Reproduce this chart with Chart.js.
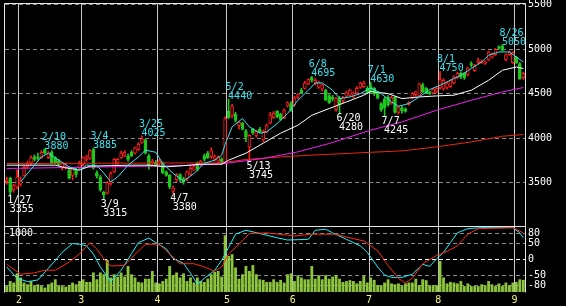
<!DOCTYPE html>
<html>
<head>
<meta charset="utf-8">
<script src="https://cdn.jsdelivr.net/npm/chart.js"></script>
<style>
  html, body { margin: 0; padding: 0; background: #000; }
  #wrap { position: relative; width: 566px; height: 306px; background: #000; overflow: hidden; }
  #main { position: absolute; left: 0; top: 0; }
  #sub  { position: absolute; left: 0; top: 226px; }
</style>
</head>
<body>
<div id="wrap">
  <canvas id="main" width="566" height="228"></canvas>
  <canvas id="sub" width="566" height="80"></canvas>
</div>
<script>
// Trading days shown, by month
const monthDays = [
  [1, [26, 27, 28, 31]],
  [2, [1, 2, 3, 4, 7, 8, 9, 10, 14, 15, 16, 17, 18, 21, 22, 24, 25, 28]],
  [3, [1, 2, 3, 4, 7, 8, 9, 10, 11, 14, 15, 16, 17, 18, 22, 23, 24, 25, 28, 29, 30, 31]],
  [4, [1, 4, 5, 6, 7, 8, 11, 12, 13, 14, 15, 18, 19, 20, 21, 22, 25, 26, 27, 28]],
  [5, [2, 6, 9, 10, 11, 12, 13, 16, 17, 18, 19, 20, 23, 24, 25, 26, 27, 30, 31]],
  [6, [1, 2, 3, 6, 7, 8, 9, 10, 13, 14, 15, 16, 17, 20, 21, 22, 23, 24, 27, 28, 29, 30]],
  [7, [1, 4, 5, 6, 7, 8, 11, 12, 13, 14, 15, 19, 20, 21, 22, 25, 26, 27, 28, 29]],
  [8, [1, 2, 3, 4, 5, 8, 9, 10, 12, 15, 16, 17, 18, 19, 22, 23, 24, 25, 26, 29, 30, 31]],
  [9, [1, 2, 5]]
];

// Candles [open, high, low, close]
const candlesJan = [
  [3510, 3560, 3480, 3530], [3550, 3560, 3355, 3390], [3420, 3480, 3390, 3470], [3450, 3640, 3430, 3560]
];
const candlesFeb = [
  [3480, 3560, 3460, 3530], [3580, 3690, 3570, 3670], [3680, 3740, 3660, 3720], [3720, 3800, 3700, 3780],
  [3790, 3810, 3740, 3760], [3790, 3830, 3750, 3770], [3780, 3860, 3770, 3840], [3870, 3880, 3820, 3830],
  [3780, 3850, 3770, 3830], [3840, 3860, 3710, 3720], [3780, 3790, 3710, 3720], [3740, 3760, 3690, 3700],
  [3660, 3730, 3640, 3720], [3680, 3720, 3650, 3700], [3640, 3660, 3540, 3550], [3580, 3670, 3530, 3660],
  [3640, 3660, 3560, 3590], [3660, 3740, 3650, 3720]
];
const candlesMar = [
  [3700, 3790, 3690, 3780], [3760, 3810, 3740, 3790], [3770, 3870, 3760, 3860], [3870, 3885, 3650, 3660],
  [3610, 3630, 3550, 3570], [3560, 3580, 3400, 3420], [3390, 3400, 3315, 3360], [3380, 3510, 3370, 3500],
  [3490, 3620, 3470, 3600], [3620, 3770, 3610, 3760], [3720, 3770, 3700, 3760], [3780, 3850, 3770, 3830],
  [3800, 3860, 3790, 3840], [3800, 3820, 3740, 3760], [3840, 3860, 3790, 3800], [3830, 3900, 3820, 3890],
  [3870, 3950, 3860, 3930], [3950, 4025, 3940, 3990], [3980, 3990, 3820, 3830], [3800, 3820, 3650, 3690],
  [3720, 3760, 3700, 3740], [3730, 3750, 3680, 3690]
];
const candlesApr = [
  [3710, 3760, 3690, 3740], [3720, 3730, 3600, 3610], [3620, 3630, 3570, 3580], [3580, 3590, 3430, 3450],
  [3400, 3460, 3380, 3440], [3530, 3600, 3510, 3590], [3590, 3600, 3510, 3530], [3540, 3560, 3480, 3510],
  [3540, 3630, 3520, 3620], [3590, 3680, 3580, 3660], [3640, 3700, 3630, 3680], [3720, 3730, 3630, 3650],
  [3700, 3750, 3690, 3740], [3800, 3820, 3740, 3760], [3830, 3850, 3770, 3780], [3790, 3890, 3770, 3860],
  [3760, 3810, 3740, 3790], [3740, 3800, 3720, 3790], [3760, 3780, 3700, 3730], [3720, 4240, 3710, 4220]
];
const candlesMay = [
  [4300, 4440, 4220, 4230], [4250, 4380, 4230, 4360], [4270, 4290, 4180, 4200], [4140, 4190, 4100, 4180],
  [4170, 4180, 4090, 4100], [4080, 4100, 3960, 4010], [3900, 4040, 3745, 4030], [4100, 4110, 4040, 4060],
  [4030, 4090, 4010, 4080], [4100, 4120, 4060, 4070], [3980, 4090, 3960, 4080], [4070, 4160, 4060, 4140],
  [4170, 4290, 4160, 4260], [4230, 4300, 4220, 4280], [4300, 4310, 4230, 4240], [4270, 4280, 4200, 4210],
  [4230, 4330, 4220, 4310], [4360, 4410, 4350, 4400], [4390, 4410, 4300, 4320]
];
const candlesJun = [
  [4370, 4470, 4360, 4450], [4460, 4500, 4440, 4490], [4540, 4560, 4500, 4510], [4560, 4640, 4550, 4620],
  [4610, 4670, 4600, 4660], [4680, 4695, 4630, 4650], [4620, 4670, 4600, 4650], [4570, 4640, 4560, 4630],
  [4550, 4610, 4530, 4600], [4540, 4550, 4420, 4430], [4480, 4490, 4390, 4400], [4460, 4480, 4420, 4440],
  [4320, 4460, 4300, 4450], [4450, 4470, 4280, 4380], [4420, 4470, 4400, 4460], [4470, 4530, 4460, 4510],
  [4480, 4550, 4470, 4540], [4460, 4520, 4450, 4500], [4510, 4580, 4500, 4560], [4570, 4630, 4560, 4620],
  [4580, 4640, 4570, 4620], [4560, 4580, 4500, 4510]
];
const candlesJul = [
  [4590, 4630, 4510, 4530], [4560, 4570, 4480, 4500], [4510, 4530, 4440, 4450], [4390, 4400, 4300, 4320],
  [4440, 4460, 4245, 4340], [4460, 4480, 4360, 4370], [4390, 4470, 4380, 4460], [4460, 4470, 4280, 4290],
  [4290, 4360, 4270, 4350], [4340, 4360, 4280, 4310], [4330, 4340, 4290, 4300], [4380, 4410, 4370, 4400],
  [4450, 4510, 4440, 4500], [4490, 4530, 4470, 4520], [4480, 4620, 4470, 4610], [4600, 4620, 4510, 4520],
  [4560, 4570, 4500, 4510], [4520, 4530, 4490, 4500], [4510, 4560, 4500, 4550], [4520, 4570, 4510, 4560]
];
const candlesAug = [
  [4570, 4750, 4550, 4660], [4560, 4670, 4540, 4650], [4570, 4630, 4550, 4620], [4580, 4660, 4570, 4650],
  [4620, 4700, 4610, 4690], [4680, 4745, 4670, 4730], [4730, 4745, 4670, 4690], [4730, 4740, 4660, 4680],
  [4710, 4800, 4700, 4790], [4840, 4860, 4800, 4820], [4760, 4830, 4750, 4820], [4850, 4900, 4830, 4870],
  [4850, 4880, 4840, 4870], [4840, 4870, 4830, 4860], [4880, 4980, 4870, 4970], [4910, 4960, 4900, 4950],
  [4940, 5010, 4930, 5000], [5030, 5040, 5000, 5010], [5040, 5050, 4980, 4990], [4880, 4950, 4870, 4940],
  [4940, 4980, 4930, 4970], [4850, 4970, 4840, 4960]
];
const candlesSep = [
  [4910, 4920, 4840, 4850], [4840, 4850, 4660, 4670], [4680, 4740, 4660, 4730]
];

// Volume (shares, scale top tick 1000)
const volume = [
  100, 185, 160, 315, 245, 160, 130, 185, 100, 130,
  100, 75, 130, 160, 215, 115, 100, 90, 115, 160,
  130, 185, 215, 170, 170, 330, 215, 330, 300, 545,
  245, 300, 260, 330, 260, 440, 300, 245, 170, 160,
  225, 225, 355, 160, 145, 185, 225, 440, 285, 330,
  245, 315, 185, 245, 160, 245, 185, 170, 225, 300,
  340, 355, 260, 960, 610, 640, 415, 225, 300, 440,
  355, 455, 300, 215, 205, 170, 170, 215, 170, 205,
  160, 300, 315, 185, 285, 245, 215, 215, 440, 225,
  285, 215, 285, 225, 260, 285, 225, 170, 185, 200,
  185, 145, 185, 270, 160, 245, 205, 115, 115, 160,
  215, 145, 130, 145, 115, 145, 160, 160, 225, 115,
  215, 200, 115, 115, 115, 525, 245, 145, 170, 160,
  145, 185, 100, 145, 100, 100, 100, 130, 115, 185,
  130, 100, 145, 100, 160, 115, 160, 170, 215, 205
];

// Moving averages: [day index, value]
const maShortPts = [[4, 3507], [10, 3788], [12, 3830], [15, 3751], [18, 3676], [21, 3639], [23, 3695], [26, 3690],
  [28, 3605], [30, 3507], [32, 3563], [35, 3695], [38, 3788], [40, 3864], [43, 3840], [45, 3714], [48, 3602],
  [51, 3515], [54, 3600], [57, 3717], [60, 3751], [62, 3808], [63, 3930], [65, 4126], [68, 4220], [70, 4126],
  [73, 4055], [75, 4070], [78, 4164], [81, 4277], [84, 4426], [87, 4539], [89, 4621], [91, 4621], [94, 4539],
  [96, 4445], [99, 4463], [102, 4501], [105, 4565], [108, 4501], [111, 4407], [113, 4359], [116, 4389],
  [119, 4463], [122, 4547], [125, 4595], [128, 4651], [131, 4708], [134, 4783], [137, 4857], [139, 4933],
  [142, 4970], [145, 4970], [147, 4913], [149, 4857]];
const ma25Pts = [[0, 3695], [14, 3695], [17, 3665], [21, 3640], [24, 3684], [30, 3690], [36, 3695], [41, 3695],
  [46, 3676], [51, 3690], [56, 3706], [62, 3706], [64, 3751], [69, 3830], [74, 3943], [79, 4055], [84, 4145],
  [88, 4257], [93, 4333], [98, 4407], [103, 4483], [105, 4525], [110, 4501], [114, 4445], [119, 4463],
  [124, 4475], [129, 4483], [134, 4539], [139, 4651], [143, 4764], [147, 4801], [149, 4783]];
const ma75Pts = [[0, 3658], [30, 3676], [51, 3690], [62, 3710], [74, 3770], [84, 3845], [93, 3939], [105, 4089],
  [114, 4182], [124, 4314], [134, 4426], [143, 4520], [149, 4569]];
const ma200Pts = [[0, 3714], [62, 3721], [69, 3759], [79, 3788], [88, 3808], [105, 3840], [114, 3856],
  [124, 3901], [134, 3957], [143, 4021], [149, 4040]];

// RCI lines in the lower panel: [day index, value]
const rciShortPts = [[0, -23], [3, -58], [6, -68], [9, -63], [12, -27], [14, -3], [16, 22], [19, 49], [21, 47],
  [23, 42], [25, 17], [27, -23], [30, -68], [33, -33], [36, 18], [38, 52], [41, 66], [43, 52], [46, 33], [48, 3],
  [51, -12], [53, -42], [55, -76], [57, -58], [60, -33], [62, -3], [64, 37], [66, 78], [69, 90], [73, 80],
  [78, 67], [81, 60], [87, 62], [89, 90], [92, 93], [94, 82], [98, 62], [102, 42], [104, 22], [107, -23],
  [109, -48], [111, -55], [114, -55], [117, -45], [120, -15], [122, -21], [124, 2], [126, 22], [128, 52],
  [130, 82], [133, 95], [137, 98], [146, 98], [148, 82], [149, 67]];
const rciLongPts = [[0, -15], [4, -45], [8, -41], [11, -33], [14, -33], [18, -8], [21, 17], [24, 52], [26, 32],
  [28, 2], [30, -20], [34, -18], [36, 5], [40, 47], [44, 47], [47, 17], [50, -13], [54, -13], [57, -23],
  [60, -36], [62, -23], [64, 17], [67, 47], [70, 80], [75, 82], [81, 75], [83, 72], [88, 78], [95, 78],
  [98, 69], [103, 57], [107, 27], [110, -18], [113, -58], [115, -72], [117, -58], [120, -13], [124, 12],
  [127, 25], [130, 42], [133, 78], [136, 95], [146, 98], [149, 82]];

// Axis ticks
const priceTicks = [3500, 4000, 4500, 5000, 5500];
const rciTicks = [-80, -50, 0, 50, 80];
const volTicks = [1000];

// Marked swing highs / lows
const highDates = ['2/10', '3/4', '3/25', '5/2', '6/8', '7/1', '8/1', '8/26'];
const lowDates = ['1/27', '3/9', '4/7', '5/13', '6/20', '7/7'];

// ---- build tables for the library ----
const dates = [];
const monthStart = {};
monthDays.forEach(([m, days]) => {
  days.forEach((d, k) => {
    if (k === 0 && m !== 1) monthStart[dates.length] = String(m);
    dates.push(m + '/' + d);
  });
});
const candles = [].concat(candlesJan, candlesFeb, candlesMar, candlesApr, candlesMay,
  candlesJun, candlesJul, candlesAug, candlesSep);
const highs = candles.map(c => c[1]);
const lows = candles.map(c => c[2]);

function sparse(pts) {
  const arr = dates.map(() => null);
  pts.forEach(([i, v]) => { arr[i] = v; });
  return arr;
}

const RED = '#ff1a1a';
const GREEN = '#1ec81e';
const FONT = '"DejaVu Sans Mono", monospace';
const GRID = '#8a8a8a';
const MONTH_LINE = '#c8c8c8';

const isUp = candles.map(c => c[3] >= c[0]);
const edgeColors = isUp.map(u => (u ? RED : GREEN));
const fillColors = isUp.map(u => (u ? '#000000' : GREEN));

// White frame round the plot area
const frame = {
  id: 'frame',
  afterDraw(chart, args, opts) {
    const { ctx, chartArea: a } = chart;
    const l = a.left - 0.5, r = a.right + 0.5, t = a.top - 0.5, b = a.bottom + 0.5;
    ctx.save();
    ctx.strokeStyle = '#e6e6e6';
    ctx.lineWidth = 1;
    ctx.beginPath();
    ctx.moveTo(l, b); ctx.lineTo(l, t); ctx.lineTo(r, t); ctx.lineTo(r, b);
    if (opts.bottom) { ctx.moveTo(l, b); ctx.lineTo(r, b); }
    ctx.stroke();
    ctx.restore();
  }
};

// Date / price labels at the marked highs and lows
const peaks = {
  id: 'peaks',
  afterDatasetsDraw(chart) {
    const { ctx, scales: { x, y } } = chart;
    ctx.save();
    ctx.font = '10px ' + FONT;
    ctx.textAlign = 'left';
    ctx.textBaseline = 'alphabetic';
    ctx.fillStyle = '#38e4f0';
    highDates.forEach(d => {
      const i = dates.indexOf(d);
      const px = x.getPixelForValue(i), py = y.getPixelForValue(highs[i]);
      ctx.fillText(d, px - 3, py - 9);
      ctx.fillText(String(highs[i]), px - 0.5, py);
    });
    ctx.fillStyle = '#ffffff';
    lowDates.forEach(d => {
      const i = dates.indexOf(d);
      const px = x.getPixelForValue(i), py = y.getPixelForValue(lows[i]);
      ctx.fillText(d, px - 3, py + 8);
      ctx.fillText(String(lows[i]), px - 0.5, py + 17);
    });
    ctx.restore();
  }
};

const monthGrid = {
  offset: true,
  drawTicks: false,
  color: c => (monthStart[c.index] !== undefined ? MONTH_LINE : 'rgba(0,0,0,0)')
};

const lineDs = (label, pts, color, order, axis) => ({
  type: 'line', label, data: sparse(pts), borderColor: color, borderWidth: 1,
  pointRadius: 0, spanGaps: true, tension: 0, order, yAxisID: axis
});

// ---- price chart ----
new Chart(document.getElementById('main'), {
  data: {
    labels: dates,
    datasets: [
      { type: 'bar', label: 'wick', data: candles.map(c => [c[2], c[1]]), backgroundColor: edgeColors,
        barThickness: 1, grouped: false, order: 6, yAxisID: 'y' },
      { type: 'bar', label: 'body', data: candles.map(c => [c[0], c[3]]), backgroundColor: fillColors,
        borderColor: edgeColors, borderWidth: 1, borderSkipped: false, barThickness: 3, grouped: false,
        order: 5, yAxisID: 'y' },
      lineDs('MA200', ma200Pts, '#e8280c', 3, 'y'),
      lineDs('MA75', ma75Pts, '#f020f0', 2, 'y'),
      lineDs('MA25', ma25Pts, '#ffffff', 1, 'y'),
      lineDs('MA5', maShortPts, '#38e4f0', 0, 'y')
    ]
  },
  options: {
    responsive: false, animation: false, devicePixelRatio: 1, events: [],
    layout: { padding: { left: 5, top: 4, right: 0, bottom: 2 } },
    plugins: { legend: { display: false }, tooltip: { enabled: false }, frame: { bottom: true } },
    scales: {
      x: {
        type: 'category', offset: true, grid: monthGrid, border: { display: false },
        ticks: { display: false },
        afterFit: s => { s.height = 0; }
      },
      y: {
        position: 'right', min: 3010, max: 5510,
        afterBuildTicks: s => { s.ticks = priceTicks.map(v => ({ value: v })); },
        afterFit: s => { s.width = 41; s.paddingTop = 0; s.paddingBottom = 0; },
        grid: { color: GRID, drawTicks: false },
        border: { display: false, dash: [4, 3] },
        ticks: { color: '#ffffff', font: { family: FONT, size: 10 }, padding: 3, callback: v => String(v) }
      }
    }
  },
  plugins: [frame, peaks]
});

// ---- volume + RCI chart ----
new Chart(document.getElementById('sub'), {
  data: {
    labels: dates,
    datasets: [
      { type: 'bar', label: 'volume', data: volume, backgroundColor: '#8cc43c', barPercentage: 0.82,
        categoryPercentage: 1, order: 3, yAxisID: 'yv' },
      lineDs('RCI short', rciShortPts, '#20f0f8', 1, 'yr'),
      lineDs('RCI long', rciLongPts, '#ff2a10', 0, 'yr')
    ]
  },
  options: {
    responsive: false, animation: false, devicePixelRatio: 1, events: [],
    layout: { padding: { left: 5, top: 1, right: 0, bottom: 0 } },
    plugins: { legend: { display: false }, tooltip: { enabled: false }, frame: { bottom: false } },
    scales: {
      x: {
        type: 'category', offset: true, grid: monthGrid, border: { display: false },
        ticks: {
          autoSkip: false, maxRotation: 0, padding: 2, labelOffset: -1.7,
          color: '#f2f27a', font: { family: FONT, size: 10 },
          callback: (v, i) => monthStart[i] || ''
        },
        afterFit: s => { s.height = 14; }
      },
      yv: {
        position: 'left', min: 0, max: 1100,
        afterBuildTicks: s => { s.ticks = volTicks.map(v => ({ value: v })); },
        afterFit: s => { s.width = 0; s.paddingTop = 0; s.paddingBottom = 0; },
        grid: { display: false, drawTicks: false }, border: { display: false },
        ticks: { mirror: true, padding: 4, color: '#ffffff', font: { family: FONT, size: 10 }, callback: v => String(v) }
      },
      yr: {
        position: 'right', min: -100, max: 100,
        afterBuildTicks: s => { s.ticks = rciTicks.map(v => ({ value: v })); },
        afterFit: s => { s.width = 41; s.paddingTop = 0; s.paddingBottom = 0; },
        grid: { drawTicks: false, color: c => (c.tick && c.tick.value === 0 ? '#ffffff' : GRID) },
        border: { display: false, dash: [4, 3] },
        ticks: { color: '#ffffff', font: { family: FONT, size: 10 }, padding: 3, callback: v => String(v) }
      }
    }
  },
  plugins: [frame]
});
</script>
</body>
</html>
